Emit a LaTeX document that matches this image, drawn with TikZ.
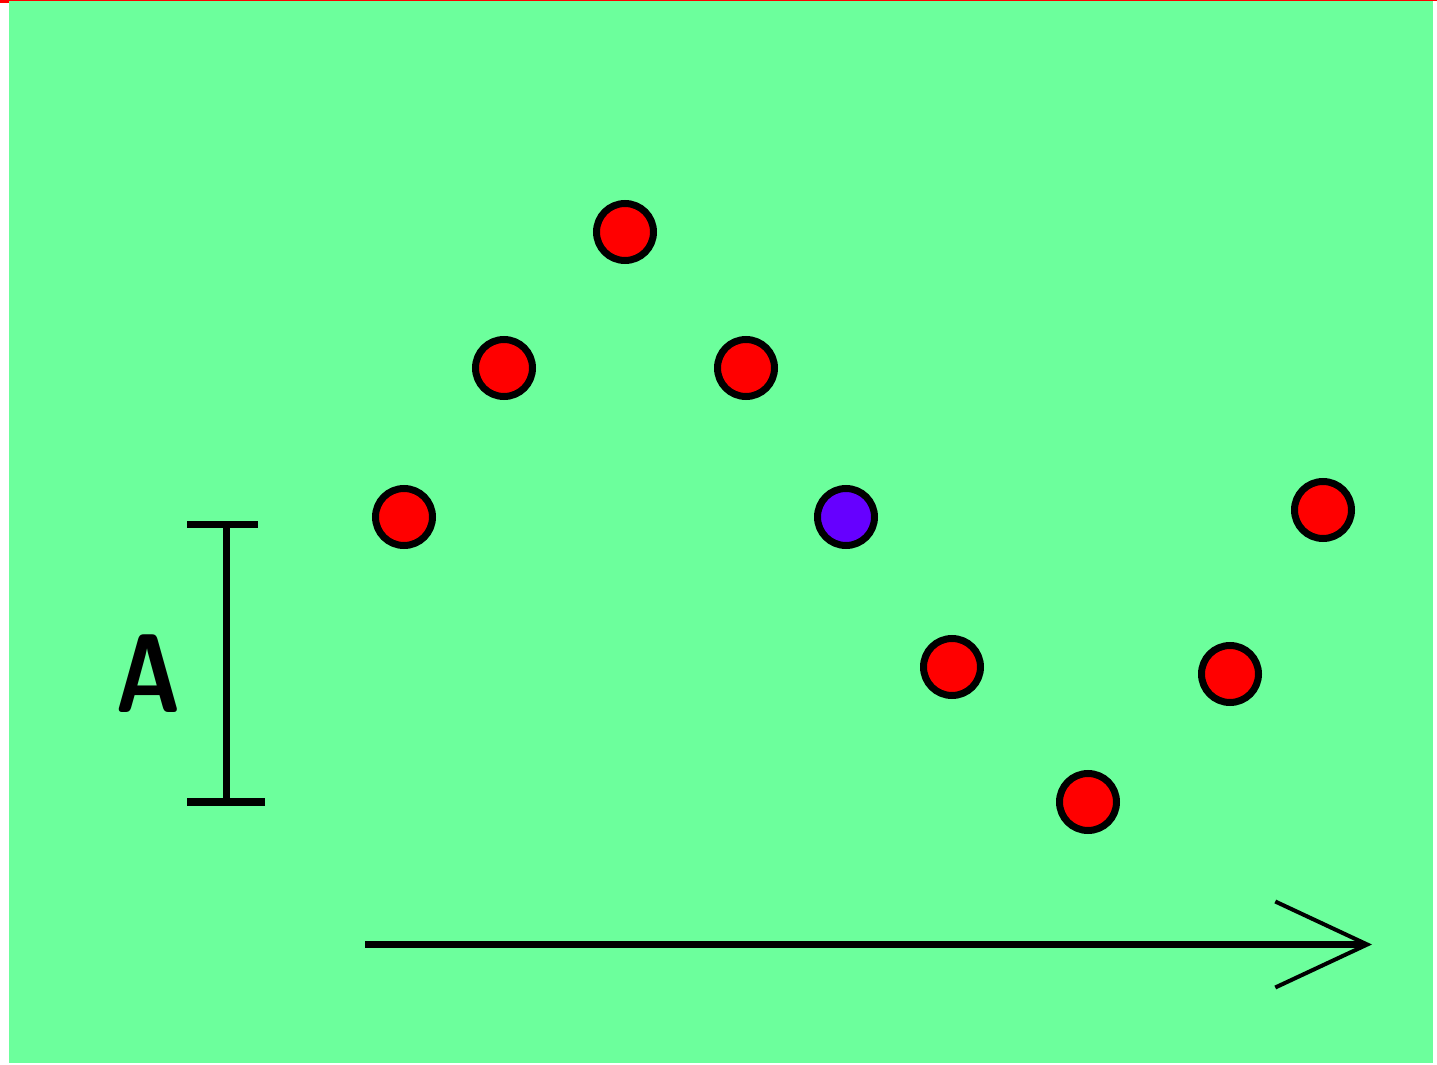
\documentclass[tikz,border=0pt]{standalone}
\usepackage{tikz}
\usepackage{xcolor}
\usetikzlibrary{positioning,arrows.meta}
\definecolor{fieldgreen}{RGB}{108,255,156}
\definecolor{violetball}{RGB}{102,0,255}
\tikzset{
  ball/.style={circle, draw=black, line width=3.5pt, minimum size=28.5pt, inner sep=0pt},
  redball/.style={ball, fill=red},
  purpleball/.style={ball, fill=violetball}
}

\begin{document}
\begin{tikzpicture}[x=0.5pt,y=-0.5pt]
    \useasboundingbox (0,0) rectangle (1437,1065);
    % Background field with red top edge
    \fill[fieldgreen] (9,1) rectangle (1433,1063);
    \fill[red] (0,0) rectangle (1437,1.5);
    \fill[red] (0,0) rectangle (9,3);

    % Points of the wave
    \node[redball] (p1) at (625,232) {};
    \node[redball] (p2) at (504,368) {};
    \node[redball] (p3) at (746,368) {};
    \node[redball] (p4) at (404,517) {};
    \node[purpleball] (p5) at (846,517) {};
    \node[redball] (p6) at (952,667) {};
    \node[redball] (p7) at (1088,802) {};
    \node[redball] (p8) at (1230,674) {};
    \node[redball] (p9) at (1323,510) {};

    % Amplitude bar
    \coordinate (bartop) at (226.5,524.5);
    \coordinate (barbot) at (226.5,802);
    \draw[line width=3.5pt] (bartop) -- (barbot);
    \draw[line width=3.5pt] (187,524.5) -- (258,524.5);
    \draw[line width=4pt] (187,802) -- (265,802);
    \node[font=\sffamily\bfseries\fontsize{56}{60}\selectfont, xscale=0.8, inner sep=0pt] (amp) at (148,674) {A};

    % Direction arrow
    \coordinate (tail) at (365,944.5);
    \coordinate (head) at (1372,944.5);
    \draw[line width=3.5pt, -{Straight Barb[length=46pt,width=43pt,line width=2pt]}] (tail) -- (head);
\end{tikzpicture}
\end{document}
